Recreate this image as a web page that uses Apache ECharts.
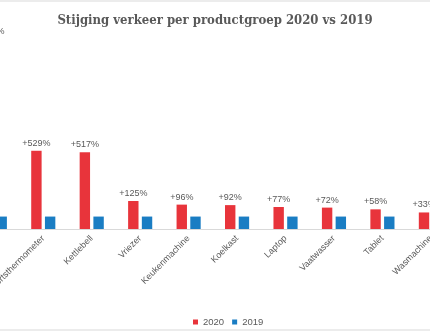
<!DOCTYPE html>
<html>
<head>
<meta charset="utf-8">
<script src="https://cdn.jsdelivr.net/npm/echarts@6/dist/echarts.min.js"></script>
<style>html,body{margin:0;padding:0;background:#fff;}#c{width:430px;height:331px;}</style>
</head>
<body>
<div id="c"></div>
<script>
var categories = ['Mondkapje', 'Koortsthermometer', 'Kettlebell', 'Vriezer', 'Keukenmachine', 'Koelkast', 'Laptop', 'Vaatwasser', 'Tablet', 'Wasmachine'];
var values2020 = [1530, 629, 617, 225, 196, 192, 177, 172, 158, 133];
var values2019 = [100, 100, 100, 100, 100, 100, 100, 100, 100, 100];
var labels2020 = ['+1430%', '+529%', '+517%', '+125%', '+96%', '+92%', '+77%', '+72%', '+58%', '+33%'];

var chart = echarts.init(document.getElementById('c'), null, {renderer: 'canvas'});
chart.setOption({
  animation: false,
  backgroundColor: '#ffffff',
  title: {
    text: 'Stijging verkeer per productgroep 2020 vs 2019',
    left: 'center',
    top: 9,
    textStyle: {fontFamily: '"DejaVu Serif Condensed", "DejaVu Serif"', fontWeight: 'bold', fontSize: 13, color: '#595959'}
  },
  legend: {
    data: ['2020', '2019'],
    left: 188,
    top: 312,
    itemWidth: 5,
    itemHeight: 5,
    itemGap: 8,
    icon: 'rect',
    textStyle: {fontFamily: 'Liberation Sans', fontSize: 9.5, color: '#595959'}
  },
  grid: {left: -29.4, right: -25.1, top: 30, bottom: 102, outerBoundsMode: 'none', containLabel: false},
  xAxis: {
    type: 'category',
    data: categories,
    axisLine: {lineStyle: {color: '#d9d9d9'}},
    axisTick: {show: false},
    axisLabel: {interval: 0, rotate: 45, margin: 8, fontFamily: 'Liberation Sans', fontSize: 9, color: '#595959'}
  },
  yAxis: {type: 'value', min: 0, max: 1600, show: false, splitLine: {show: false}},
  series: [
    {
      name: '2020', type: 'bar', data: values2020, barWidth: 10.4, barGap: '32%',
      itemStyle: {color: '#E8343B'},
      label: {
        show: true, position: 'top', distance: 3,
        fontFamily: 'Liberation Sans', fontSize: 9, color: '#595959',
        formatter: function (p) { return labels2020[p.dataIndex]; }
      }
    },
    {
      name: '2019', type: 'bar', data: values2019, barWidth: 10.4,
      itemStyle: {color: '#1A7DC3'}
    }
  ],
  graphic: [{
    type: 'rect', silent: true,
    shape: {x: -5, y: 1, width: 440, height: 329},
    style: {fill: 'none', stroke: '#d9d9d9', lineWidth: 1}
  }]
});
</script>
</body>
</html>
